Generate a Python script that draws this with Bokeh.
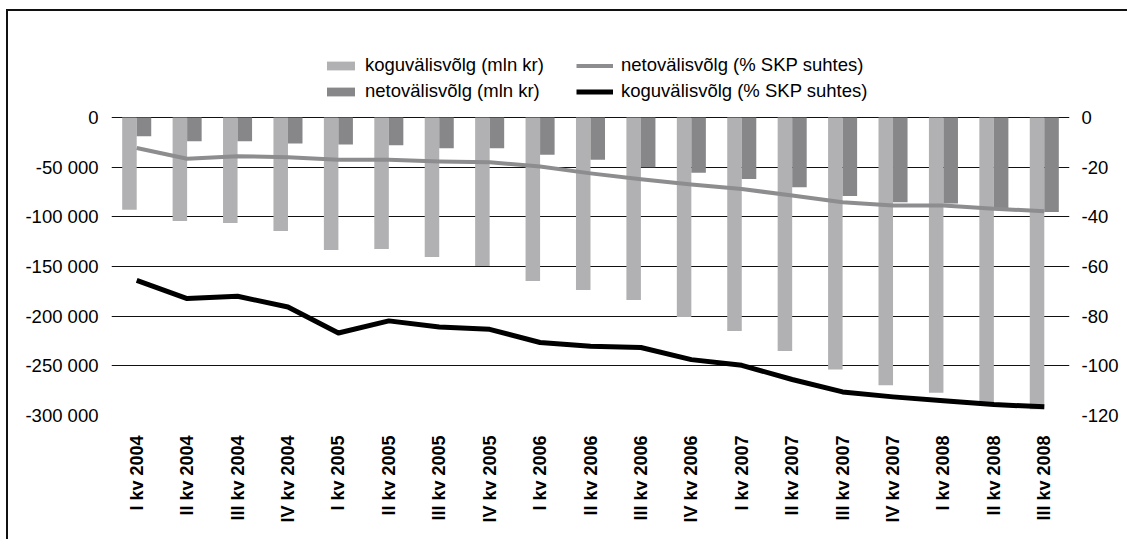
import math
from bokeh.plotting import figure
from bokeh.models import (ColumnDataSource, FactorRange, Range1d, LinearAxis,
                          FixedTicker, Legend, LegendItem)
from bokeh.transform import dodge
from bokeh.embed import file_html
from bokeh.resources import INLINE

# ---- data ----
quarters = ["I kv 2004", "II kv 2004", "III kv 2004", "IV kv 2004",
            "I kv 2005", "II kv 2005", "III kv 2005", "IV kv 2005",
            "I kv 2006", "II kv 2006", "III kv 2006", "IV kv 2006",
            "I kv 2007", "II kv 2007", "III kv 2007", "IV kv 2007",
            "I kv 2008", "II kv 2008", "III kv 2008"]

gross_debt_mln = [-92800, -104300, -106300, -114300, -133500, -132400, -140500,
                  -149500, -164600, -173700, -183700, -200800, -214900, -235000,
                  -253700, -269500, -277200, -286300, -293600]
net_debt_mln = [-18800, -23800, -23800, -26100, -27200, -27900, -30900,
                -30900, -37500, -42500, -50000, -55600, -62000, -70100,
                -79100, -85200, -86500, -92500, -95200]
net_debt_pct = [-12.3, -16.6, -15.6, -16.0, -17.0, -17.0, -17.7, -18.0, -19.7,
                -22.5, -24.9, -27.0, -28.8, -31.4, -34.1, -35.4, -35.4, -36.7, -37.8]
gross_debt_pct = [-65.6, -72.9, -72.0, -76.3, -86.8, -81.9, -84.4, -85.3, -90.6,
                  -92.1, -92.6, -97.5, -99.8, -105.5, -110.5, -112.5, -114.1,
                  -115.6, -116.5]

left_ticks = [0, -50000, -100000, -150000, -200000, -250000, -300000]
left_labels = ["0", "-50 000", "-100 000", "-150 000", "-200 000", "-250 000", "-300 000"]
right_ticks = [0, -20, -40, -60, -80, -100, -120]
right_labels = ["0", "-20", "-40", "-60", "-80", "-100", "-120"]

series_names = ["koguvälisvõlg (mln kr)", "netovälisvõlg (mln kr)",
                "netovälisvõlg (% SKP suhtes)", "koguvälisvõlg (% SKP suhtes)"]

# ---- style ----
LIGHT = "#b1b1b3"
DARK = "#87878a"
GREY = "#8d8d8f"
FONT = "Liberation Sans"
FS = "18.5px"
FSX = "18px"

# frame: 298 px for the 0..-300000 span, plus 80 px of headroom for the legend
HEAD_PX = 80
SPAN_PX = 298
left_top = 300000 * HEAD_PX / SPAN_PX
right_top = 120 * HEAD_PX / SPAN_PX

src = ColumnDataSource(dict(q=quarters, gross=gross_debt_mln, net=net_debt_mln,
                            net_pct=net_debt_pct, gross_pct=gross_debt_pct))

p = figure(x_range=FactorRange(factors=quarters, range_padding=0),
           y_range=Range1d(-300000, left_top),
           width=1121, height=530,
           min_border_left=103, min_border_right=60,
           min_border_top=26, min_border_bottom=126,
           output_backend="svg", toolbar_location=None)
p.outline_line_color = None
p.background_fill_color = "white"
p.border_fill_color = "white"
p.styles = {"margin-left": "8px", "margin-top": "11px",
            "box-shadow": "-2px -2px 0px 0px #111111"}

p.extra_y_ranges = {"pct": Range1d(-120, right_top)}

r1 = p.vbar(x=dodge("q", -0.144, range=p.x_range), top="gross", width=0.288,
            source=src, fill_color=LIGHT, line_color=None)
r2 = p.vbar(x=dodge("q", 0.144, range=p.x_range), top="net", width=0.288,
            source=src, fill_color=DARK, line_color=None)
r3 = p.line("q", "net_pct", source=src, y_range_name="pct", line_width=4,
            line_color=GREY, line_join="round")
r4 = p.line("q", "gross_pct", source=src, y_range_name="pct", line_width=5,
            line_color="black", line_join="round")

# left axis
ya = p.yaxis[0]
ya.ticker = FixedTicker(ticks=left_ticks)
ya.major_label_overrides = dict(zip(left_ticks, left_labels))
# right axis
ra = LinearAxis(y_range_name="pct", ticker=FixedTicker(ticks=right_ticks))
ra.major_label_overrides = dict(zip(right_ticks, right_labels))
p.add_layout(ra, "right")

for ax in (ya, ra):
    ax.axis_line_color = None
    ax.major_tick_line_color = None
    ax.minor_tick_line_color = None
    ax.major_tick_out = 0
    ax.major_tick_in = 0
    ax.major_label_text_font = FONT
    ax.major_label_text_font_size = FS
    ax.major_label_text_color = "black"
ya.major_label_standoff = 13
ra.major_label_standoff = 12

xa = p.xaxis[0]
xa.axis_line_color = None
xa.major_tick_line_color = None
xa.minor_tick_line_color = None
xa.major_tick_out = 0
xa.major_tick_in = 0
xa.major_label_orientation = math.pi / 2
xa.major_label_text_font = FONT
xa.major_label_text_font_size = FSX
xa.major_label_text_font_style = "bold"
xa.major_label_text_color = "black"
xa.major_label_standoff = 20

p.xgrid.grid_line_color = None
p.ygrid.grid_line_color = "#111111"
p.ygrid.grid_line_width = 1

leg1 = Legend(items=[LegendItem(label=series_names[0], renderers=[r1]),
                     LegendItem(label=series_names[1], renderers=[r2])],
              location=(212, 313), glyph_width=35, glyph_height=11, label_standoff=7)
leg2 = Legend(items=[LegendItem(label=series_names[2], renderers=[r3]),
                     LegendItem(label=series_names[3], renderers=[r4])],
              location=(465, 313), glyph_width=37, glyph_height=11, label_standoff=8)
for lg in (leg1, leg2):
    lg.border_line_color = None
    lg.background_fill_alpha = 0
    lg.padding = 0
    lg.margin = 0
    lg.spacing = 4
    lg.label_height = 20
    lg.label_text_font = FONT
    lg.label_text_font_size = FS
    lg.label_text_color = "black"
    p.add_layout(lg, "center")

with open("out.html", "w", encoding="utf-8") as f:
    f.write(file_html(p, INLINE))
